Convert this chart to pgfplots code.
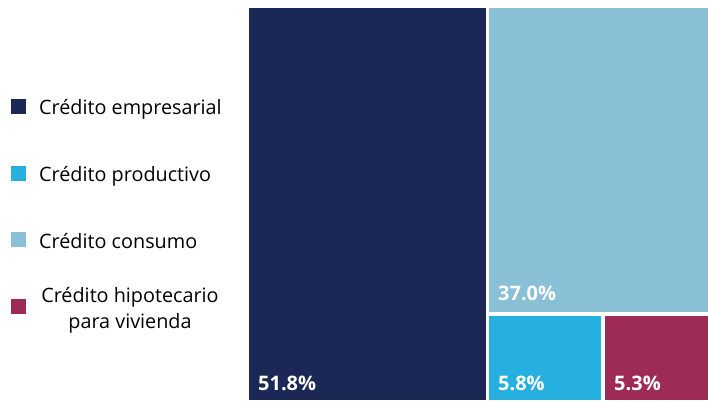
\documentclass[border=0pt]{standalone}
\usepackage{pgfplots}
\pgfplotsset{compat=1.18}
\usepackage{fontspec}
\setmainfont{Open Sans}
\definecolor{cEmp}{HTML}{1B2754}
\definecolor{cProd}{HTML}{25B0E0}
\definecolor{cCons}{HTML}{89C0D6}
\definecolor{cHip}{HTML}{9E2B55}
\begin{document}
\begin{tikzpicture}
\begin{axis}[width=708pt,height=400pt,scale only axis,
  xmin=0,xmax=708,ymin=0,ymax=400,y dir=reverse,hide axis,clip=false]
\path[draw=none] (rel axis cs:0,0) rectangle (rel axis cs:1,1);
% treemap tiles
\addplot[fill=cEmp,draw=none] coordinates {(249,7.5) (485.5,7.5) (485.5,400) (249,400)} -- cycle;
\addplot[fill=cCons,draw=none] coordinates {(489.3,7.5) (708,7.5) (708,311.7) (489.3,311.7)} -- cycle;
\addplot[fill=cProd,draw=none] coordinates {(489.3,315.7) (601,315.7) (601,400) (489.3,400)} -- cycle;
\addplot[fill=cHip,draw=none] coordinates {(605,315.7) (708,315.7) (708,400) (605,400)} -- cycle;
% legend markers
\addplot[only marks,mark=square*,mark size=7pt,color=cEmp] coordinates {(18,106.5)};
\addplot[only marks,mark=square*,mark size=7pt,color=cProd] coordinates {(18,173)};
\addplot[only marks,mark=square*,mark size=7pt,color=cCons] coordinates {(18,239.5)};
\addplot[only marks,mark=square*,mark size=7pt,color=cHip] coordinates {(18,306)};
% legend text
\begin{scope}[every node/.style={inner sep=0pt,font=\fontsize{19.8}{26}\selectfont}]
\node[anchor=base west] at (axis cs:39,114) {Crédito empresarial};
\node[anchor=base west] at (axis cs:39,181) {Crédito productivo};
\node[anchor=base west] at (axis cs:39,248) {Crédito consumo};
\node[align=center,anchor=base] at (axis cs:130,328) {Crédito hipotecario\\para vivienda};
\end{scope}
% value labels
\begin{scope}[every node/.style={inner sep=0pt,anchor=base west,text=white,font=\fontsize{20}{24}\selectfont\bfseries}]
\node at (axis cs:258,390) {51.8\%};
\node at (axis cs:498,300) {37.0\%};
\node at (axis cs:498,390) {5.8\%};
\node at (axis cs:614,390) {5.3\%};
\end{scope}
\end{axis}
\end{tikzpicture}
\end{document}
